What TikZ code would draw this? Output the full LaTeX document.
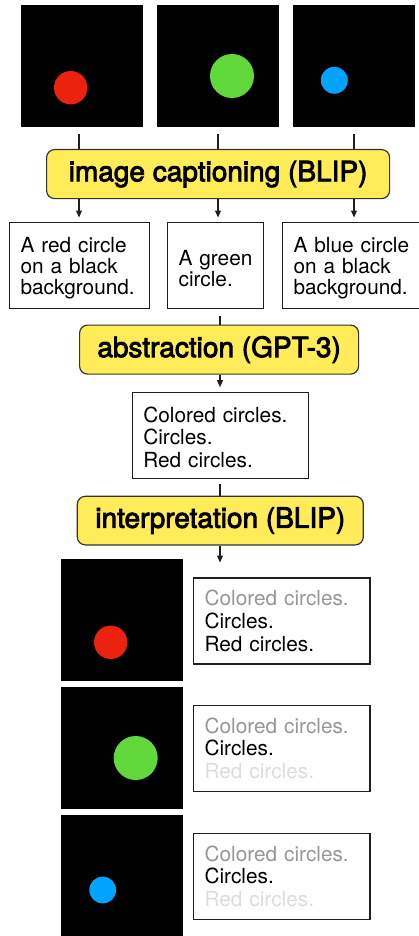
\documentclass[tikz,border=0pt]{standalone}
\usepackage{fontspec}
\setmainfont{TeX Gyre Heros}
\newfontfamily\medfont[FakeBold=3]{TeX Gyre Heros}
\usetikzlibrary{arrows.meta,calc}
\definecolor{ybox}{RGB}{255,236,88}
\definecolor{cred}{RGB}{236,34,14}
\definecolor{cgreen}{RGB}{98,217,58}
\definecolor{cblue}{RGB}{0,163,255}
\definecolor{tgray}{RGB}{150,150,150}
\definecolor{tlight}{RGB}{220,220,220}
\newcommand{\capfont}{\fontsize{20.8}{21}\selectfont}
\newcommand{\resfont}{\fontsize{20.8}{22.6}\selectfont}
\newcommand{\procfont}{\medfont\fontsize{28}{30}\selectfont}
\begin{document}
\begin{tikzpicture}[x=1pt,y=-1pt,
  img/.style={fill=black, draw=none, minimum width=122pt, minimum height=122pt, inner sep=0pt, anchor=north west},
  dot/.style={circle, draw=none, inner sep=0pt},
  capbox/.style={draw=black!88, line width=1.2pt, anchor=north west, inner xsep=11pt, inner ysep=0pt, align=left, minimum height=86pt},
  proc/.style={draw=black!80, fill=ybox, rounded corners=8pt, line width=1.2pt, anchor=north west, inner sep=0pt, font=\procfont},
  link/.style={line width=1.1pt, draw=black!88},
  arr/.style={link, -{Triangle[width=6pt,length=7pt]}, shorten >=4.5pt}]
\useasboundingbox (0,0) rectangle (418,936);

% top images
\node[img] (img1) at (21,5) {};
\node[img] (img2) at (157,5) {};
\node[img] (img3) at (293,5) {};
\node[dot, fill=cred, minimum size=33.4pt] (c1) at (70.7,87.7) {};
\node[dot, fill=cgreen, minimum size=44pt] (c2) at (232,76) {};
\node[dot, fill=cblue, minimum size=27pt] (c3) at (334.3,80.3) {};

% captioning
\node[proc, minimum width=343pt, minimum height=49pt] (cap) at (46,149) {\raisebox{-2pt}{image captioning (BLIP)}};

\node[capbox, text width=118pt, font=\capfont] (t1) at (9,222) {\rule{0pt}{21pt}A red circle\\on a black\\background.};
\node[capbox, text width=74pt, font=\capfont] (t2) at (167,222) {\rule{0pt}{21pt}A green\\circle.};
\node[capbox, text width=120pt, font=\capfont] (t3) at (282,222) {\rule{0pt}{21pt}A blue circle\\on a black\\background.};

\coordinate (l1) at (79,134);
\coordinate (l2) at (218,134);
\coordinate (l3) at (354,134);
\draw[link] (l1) -- (l1 |- cap.north);
\draw[link] (l2) -- (l2 |- cap.north);
\draw[link] (l3) -- (l3 |- cap.north);
\draw[arr] (l1 |- cap.south) -- (l1 |- t1.north);
\draw[arr] (l2 |- cap.south) -- (l2 |- t2.north);
\draw[arr] (l3 |- cap.south) -- (l3 |- t3.north);

% abstraction
\node[proc, minimum width=279pt, minimum height=49pt] (abs) at (79,324.5) {\raisebox{-2pt}{abstraction (GPT-3)}};
\node[capbox, text width=154pt, font=\resfont] (mid) at (131.7,391.7) {\rule{0pt}{19pt}Colored circles.\\Circles.\\Red circles.};
\coordinate (m1) at (220,316);
\draw[link] (m1) -- (m1 |- abs.north);
\draw[arr] (m1 |- abs.south) -- (m1 |- mid.north);

% interpretation
\node[proc, minimum width=286pt, minimum height=48.6pt] (intp) at (76.7,495.7) {\raisebox{-2pt}{interpretation (BLIP)}};
\coordinate (m2) at (220,484);
\coordinate (m3) at (220,567);
\draw[link] (m2) -- (m2 |- intp.north);
\draw[arr] (m2 |- intp.south) -- (m3);

% bottom images
\node[img] (img4) at (61,559) {};
\node[img] (img5) at (61,687) {};
\node[img] (img6) at (61,815) {};
\node[dot, fill=cred, minimum size=33.4pt] (c4) at (110.7,642.3) {};
\node[dot, fill=cgreen, minimum size=44pt] (c5) at (135.7,758) {};
\node[dot, fill=cblue, minimum size=26.8pt] (c6) at (102.7,890) {};

\node[capbox, text width=154.3pt, font=\resfont] (r1) at (193,577.3) {\textcolor{tgray}{Colored circles.}\\Circles.\\Red circles.};
\node[capbox, text width=154.3pt, font=\resfont] (r2) at (193,704.7) {\textcolor{tgray}{Colored circles.}\\Circles.\\\textcolor{tlight}{Red circles.}};
\node[capbox, text width=154.3pt, font=\resfont] (r3) at (193,832.7) {\textcolor{tgray}{Colored circles.}\\Circles.\\\textcolor{tlight}{Red circles.}};
\end{tikzpicture}
\end{document}
